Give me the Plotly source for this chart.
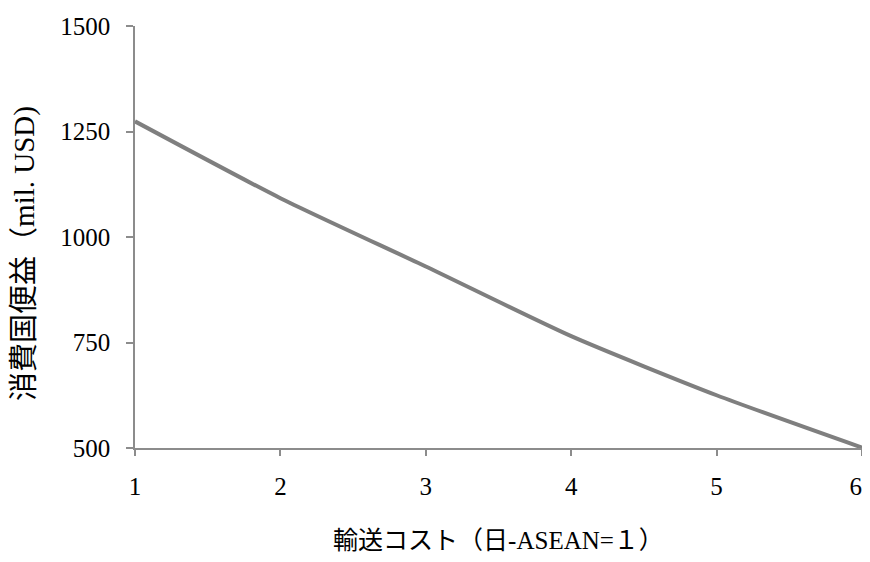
import plotly.graph_objects as go

transport_cost = [1, 2, 3, 4, 5, 6]
consumer_benefit = [1274, 1092, 930, 765, 625, 501]

x_tick_labels = ["1", "2", "3", "4", "5", "6"]
y_tick_vals = [500, 750, 1000, 1250, 1500]

x_title = "輸送コスト（日-ASEAN=１）"
y_title = "消費国便益（mil. USD)"

font_family = "Liberation Serif, Noto Sans CJK JP, serif"

# pad the last label slightly so it stays inside the window edge
tick_text = x_tick_labels[:-1] + [x_tick_labels[-1] + "\u2002"]

fig = go.Figure()
fig.add_trace(go.Scatter(
    x=transport_cost, y=consumer_benefit, mode="lines",
    line=dict(color="#7f7f7f", width=4, shape="spline", smoothing=0.6),
    showlegend=False, hoverinfo="x+y", cliponaxis=False,
))

# the page body has an 8px default margin, so the figure is sized to fit the window
fig.update_layout(
    width=862, height=546,
    margin=dict(l=127, r=8, t=18, b=106),
    paper_bgcolor="white", plot_bgcolor="white",
    font=dict(family=font_family, size=25, color="black"),
)
fig.update_xaxes(
    range=[1, 6], tickvals=transport_cost, ticktext=tick_text,
    showgrid=False, zeroline=False, showline=True, linecolor="#8c8c8c", linewidth=1.5,
    ticks="outside", ticklen=6, tickcolor="#8c8c8c", tickwidth=1.5,
    ticklabelstandoff=9, ticklabeloverflow="allow", automargin=False,
    title=dict(text=x_title, standoff=40, font=dict(size=25)),
)
fig.update_yaxes(
    range=[500, 1500], tickvals=y_tick_vals,
    showgrid=False, zeroline=False, showline=True, linecolor="#8c8c8c", linewidth=1.5,
    ticks="outside", ticklen=7, tickcolor="#8c8c8c", tickwidth=1.5,
    ticklabelstandoff=11, automargin=False,
)
fig.add_annotation(
    text=y_title, textangle=-90, showarrow=False,
    xref="paper", yref="paper", x=0, y=0.46, xanchor="center", yanchor="middle",
    xshift=-110, font=dict(size=29),
)

fig.write_html("out.html")
